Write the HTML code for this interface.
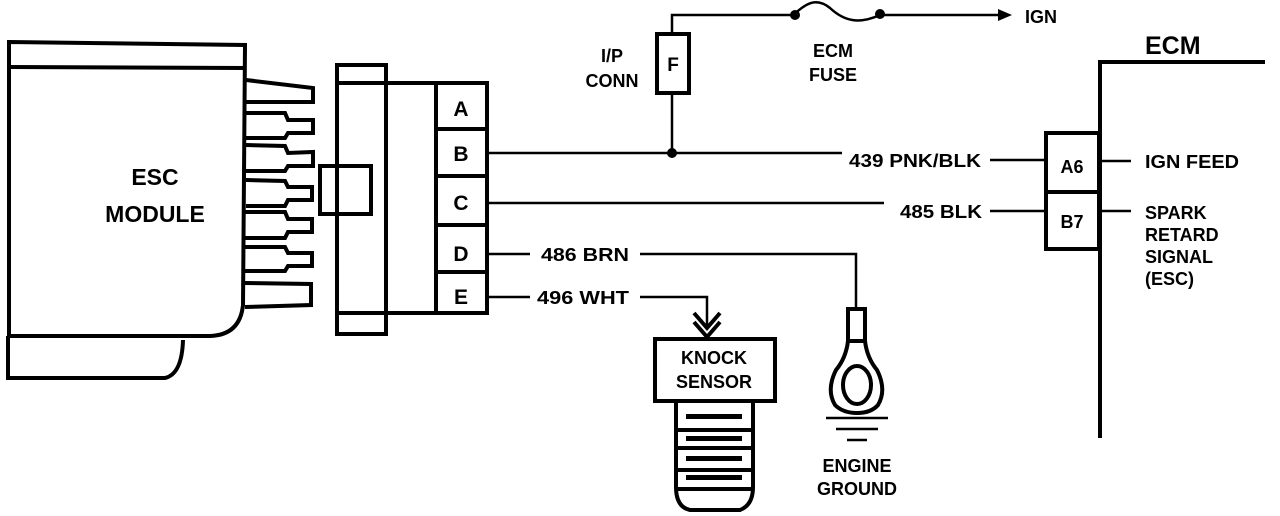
<!DOCTYPE html>
<html><head><meta charset="utf-8"><style>html,body{margin:0;padding:0;background:#fff}svg{display:block}text{font-family:"Liberation Sans",sans-serif;font-weight:bold;fill:#000}</style></head><body>
<svg width="1280" height="516" viewBox="0 0 1280 516" xmlns="http://www.w3.org/2000/svg">
<g fill="none" stroke="#000" stroke-width="4">
<path d="M9,42 L245,45 L243,305 Q240,335 210,336 L9,336 Z"/>
<line x1="9" y1="67" x2="245" y2="68"/>
<path d="M8,336 L8,378 L165,378 Q182,374 183,340"/>
<path d="M246,80 L313,88 L313,102 L246,102"/>
<path d="M246,113 L285,113 L288,120 L313,120 L313,133 L288,133 L285,138 L246,138"/>
<path d="M246,145 L285,146 L288,153 L313,152 L313,166 L288,166 L285,171 L246,171"/>
<path d="M246,180 L285,181 L288,187 L312,187 L312,200 L288,200 L285,206 L246,206"/>
<path d="M245,212 L285,212 L288,219 L312,219 L312,232 L288,232 L285,238 L245,238"/>
<path d="M245,247 L285,247 L288,253 L312,253 L312,266 L288,266 L285,271 L245,271"/>
<path d="M245,283 L311,284 L311,305 L245,307"/>
<rect x="337" y="65" width="49" height="269"/>
<line x1="337" y1="83" x2="386" y2="83"/>
<line x1="337" y1="313" x2="386" y2="313"/>
<rect x="320" y="166" width="51" height="48"/>
<rect x="386" y="83" width="101" height="230"/>
<line x1="436" y1="83" x2="436" y2="313"/>
<line x1="436" y1="129" x2="487" y2="129"/>
<line x1="436" y1="176" x2="487" y2="176"/>
<line x1="436" y1="225" x2="487" y2="225"/>
<line x1="436" y1="272" x2="487" y2="272"/>
</g>
<g fill="none" stroke="#000" stroke-width="2.5">
<line x1="487" y1="153" x2="842" y2="153"/>
<line x1="487" y1="203" x2="884" y2="203"/>
<line x1="487" y1="254" x2="530" y2="254"/>
<polyline points="640,254 856,254 856,308"/>
<line x1="487" y1="297" x2="530" y2="297"/>
<polyline points="640,297 707,297 707,328"/>
<line x1="990" y1="160" x2="1045" y2="160"/>
<line x1="990" y1="211" x2="1045" y2="211"/>
<line x1="1100" y1="161" x2="1131" y2="161"/>
<line x1="1100" y1="211" x2="1131" y2="211"/>
<line x1="672" y1="93" x2="672" y2="153"/>
<polyline points="672,33 672,15 793,15"/>
<path d="M793,15 C805,5 815,-4 830,8 C845,22 860,24 880,15"/>
<line x1="880" y1="15" x2="1000" y2="15"/>
</g>
<circle cx="672" cy="153" r="5"/>
<circle cx="795" cy="15" r="5"/>
<circle cx="880" cy="14" r="5"/>
<polygon points="998,9 1012,15 998,21"/>
<rect x="657" y="34" width="32" height="59" fill="none" stroke="#000" stroke-width="4"/>
<g fill="none" stroke="#000" stroke-width="4">
<polyline points="1265,62 1100,62 1100,438"/>
<rect x="1046" y="133" width="53" height="116"/>
<line x1="1046" y1="192" x2="1099" y2="192"/>
</g>
<g fill="none" stroke="#000" stroke-width="4">
<rect x="655" y="339" width="120" height="62"/>
<path d="M676,401 L676,487 Q676,507 690,510 L740,510 Q753,505 753,487 L753,401"/>
<line x1="676" y1="430" x2="753" y2="430"/>
<line x1="676" y1="448" x2="753" y2="448"/>
<line x1="676" y1="470" x2="753" y2="470"/>
<line x1="676" y1="489" x2="753" y2="489"/>
<polyline points="694,313 707,328 720,313"/>
<polyline points="694,322 707,337 720,322"/>
</g>
<g fill="#000">
<rect x="686" y="414" width="56" height="5"/><rect x="686" y="436" width="56" height="5"/><rect x="686" y="456" width="56" height="5"/><rect x="686" y="475" width="56" height="5"/>
</g>
<g fill="none" stroke="#000" stroke-width="4">
<rect x="848" y="309" width="17" height="32"/>
<path d="M848,341 Q846,358 836,370 Q826,390 835,405 Q843,413 857,413 Q871,413 878,405 Q887,390 877,370 Q867,358 865,341"/>
<ellipse cx="857" cy="385" rx="14" ry="19"/>
</g>
<g stroke="#000" stroke-width="2.5">
<line x1="826" y1="418" x2="888" y2="418"/>
<line x1="836" y1="429" x2="878" y2="429"/>
<line x1="847" y1="440" x2="867" y2="440"/>
</g>
<text x="155" y="185" font-size="23" text-anchor="middle">ESC</text>
<text x="155" y="222" font-size="23" text-anchor="middle">MODULE</text>
<text x="461" y="116" font-size="21" text-anchor="middle">A</text>
<text x="461" y="161" font-size="21" text-anchor="middle">B</text>
<text x="461" y="210" font-size="21" text-anchor="middle">C</text>
<text x="461" y="261" font-size="21" text-anchor="middle">D</text>
<text x="461" y="304" font-size="21" text-anchor="middle">E</text>
<text x="673" y="71" font-size="19" text-anchor="middle">F</text>
<text x="612" y="62" font-size="18" text-anchor="middle">I/P</text>
<text x="612" y="87" font-size="18" text-anchor="middle">CONN</text>
<text x="833" y="57" font-size="18" text-anchor="middle">ECM</text>
<text x="833" y="81" font-size="18" text-anchor="middle">FUSE</text>
<text x="1025" y="23" font-size="18">IGN</text>
<text x="1145" y="54" font-size="25">ECM</text>
<text x="849" y="167" font-size="18" textLength="132" lengthAdjust="spacingAndGlyphs">439 PNK/BLK</text>
<text x="900" y="218" font-size="18" textLength="82" lengthAdjust="spacingAndGlyphs">485 BLK</text>
<text x="541" y="261" font-size="18" textLength="88" lengthAdjust="spacingAndGlyphs">486 BRN</text>
<text x="537" y="304" font-size="18" textLength="92" lengthAdjust="spacingAndGlyphs">496 WHT</text>
<text x="1072" y="173" font-size="18" text-anchor="middle">A6</text>
<text x="1072" y="228" font-size="18" text-anchor="middle">B7</text>
<text x="1145" y="168" font-size="18" textLength="94" lengthAdjust="spacingAndGlyphs">IGN FEED</text>
<text x="1145" y="219" font-size="18">SPARK</text>
<text x="1145" y="241" font-size="18">RETARD</text>
<text x="1145" y="263" font-size="18">SIGNAL</text>
<text x="1145" y="285" font-size="18">(ESC)</text>
<text x="714" y="364" font-size="18" text-anchor="middle">KNOCK</text>
<text x="714" y="388" font-size="18" text-anchor="middle">SENSOR</text>
<text x="857" y="472" font-size="18" text-anchor="middle">ENGINE</text>
<text x="857" y="495" font-size="18" text-anchor="middle">GROUND</text>
</svg>
</body></html>
